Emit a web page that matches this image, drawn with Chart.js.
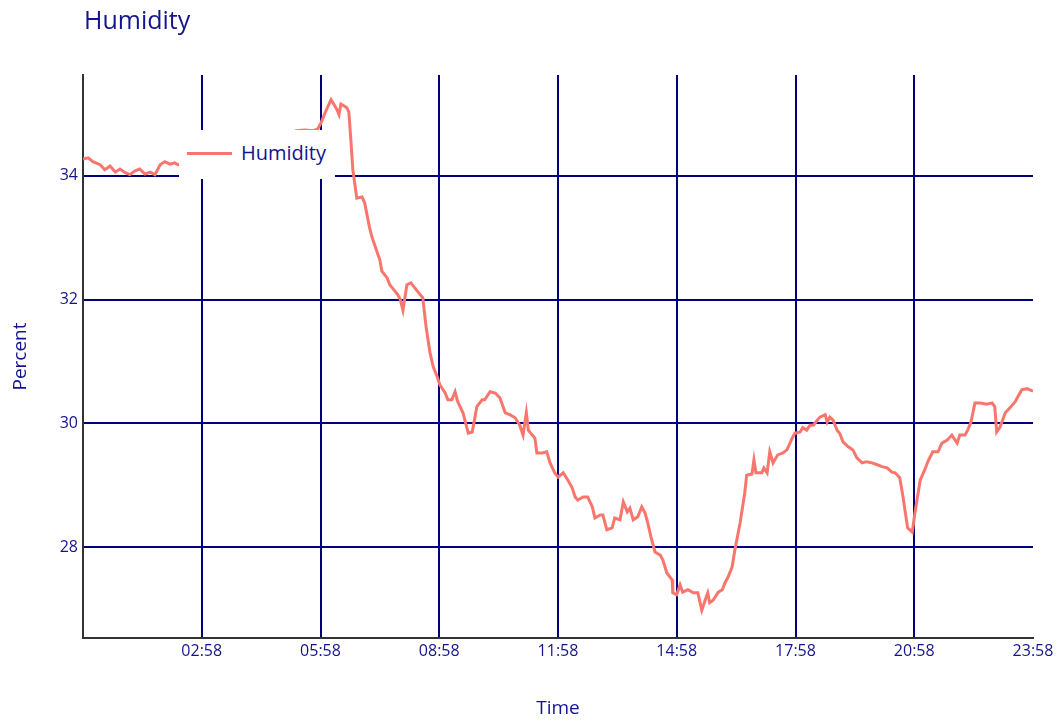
<!DOCTYPE html>
<html lang="en">
<head>
    <meta charset="UTF-8">
    <title>Humidity</title>
    <script src="https://cdn.jsdelivr.net/npm/chart.js"></script>
    <style>
        body {
            margin: 0;
            background: white;
            font-family: 'Open Sans', sans-serif;
        }
        #wrap {
            position: relative;
            width: 1061px;
            height: 725px;
        }
        #title {
            position: absolute;
            left: 84px;
            top: 4px;
            font-size: 25px;
            line-height: 30px;
            color: #14148c;
        }
        #legend {
            position: absolute;
            left: 179px;
            top: 130px;
            width: 156px;
            height: 49px;
            background: white;
            z-index: 2;
        }
        #legend .swatch {
            position: absolute;
            left: 8px;
            top: 22px;
            width: 45px;
            height: 3px;
            background: #f8766d;
        }
        #legend .label {
            position: absolute;
            left: 62px;
            top: 10px;
            font-size: 20px;
            line-height: 26px;
            color: #14148c;
        }
    </style>
</head>
<body>
    <div id="wrap">
        <canvas id="chart"></canvas>
        <div id="title">Humidity</div>
        <div id="legend"><span class="swatch"></span><span class="label">Humidity</span></div>
    </div>

    <script>
        // minutes elapsed since 23:58 (axis start)
        const minutes = [
            0, 8, 15, 26, 33, 41, 49, 56, 64, 71, 79, 86, 94, 102, 109, 117, 124, 132, 139, 144,
            177, 223, 268, 306, 323, 336, 349, 356,
            361, 367, 376, 380, 385, 388, 391, 396, 400, 403,
            406, 409, 415, 423, 427, 434, 438, 446, 450, 453,
            461, 465, 471, 477, 481, 485, 491, 497, 503, 511,
            515, 520, 526, 531, 537, 541, 549, 553, 559, 564,
            568, 576, 584, 590, 597, 605, 609, 617, 625, 632,
            640, 647, 655, 662, 667, 672, 675, 681, 685, 688,
            696, 703, 708, 715, 720, 728, 735, 741, 746, 750,
            758, 765, 772, 776, 784, 788, 794, 802, 806, 814,
            819, 825, 829, 834, 841, 847, 852, 856, 861, 867,
            875, 879, 885, 893, 894, 900, 905, 909, 917, 925,
            932, 938, 943, 947, 950, 955, 963, 969, 973, 978,
            984, 988, 996, 1003, 1006, 1014, 1017, 1020, 1029, 1032,
            1037, 1041, 1046, 1053, 1061, 1067, 1075, 1079, 1087, 1091,
            1097, 1102, 1107, 1113, 1117, 1125, 1128, 1132, 1137, 1143,
            1147, 1152, 1160, 1167, 1173, 1181, 1188, 1196, 1204, 1211,
            1219, 1226, 1231, 1238, 1243, 1247, 1250, 1257, 1261, 1269,
            1276, 1281, 1288, 1296, 1302, 1310, 1317, 1325, 1329, 1337,
            1341, 1346, 1352, 1360, 1370, 1378, 1382, 1385, 1390, 1398,
            1405, 1413, 1417, 1423, 1431, 1440
        ];

        const humidity = [
            34.27, 34.29, 34.23, 34.18, 34.10, 34.16, 34.06, 34.11, 34.05, 34.02, 34.08, 34.11, 34.03, 34.06, 34.02, 34.18, 34.23, 34.19, 34.21, 34.18,
            34.22, 34.28, 34.40, 34.60, 34.73, 34.74, 34.73, 34.76,
            34.86, 35.02, 35.23, 35.16, 35.07, 34.99, 35.16, 35.13, 35.10, 35.03,
            34.58, 34.10, 33.64, 33.66, 33.56, 33.18, 33.01, 32.76, 32.64, 32.46,
            32.35, 32.24, 32.16, 32.08, 32.00, 31.83, 32.24, 32.27, 32.19, 32.08,
            32.03, 31.56, 31.14, 30.91, 30.75, 30.62, 30.49, 30.38, 30.38, 30.51,
            30.35, 30.17, 29.84, 29.86, 30.27, 30.38, 30.38, 30.51, 30.49, 30.41,
            30.17, 30.14, 30.09, 29.97, 29.81, 30.17, 29.89, 29.81, 29.76, 29.52,
            29.52, 29.54, 29.36, 29.20, 29.13, 29.20, 29.08, 28.97, 28.81, 28.76,
            28.81, 28.81, 28.65, 28.47, 28.52, 28.52, 28.28, 28.31, 28.47, 28.44,
            28.73, 28.57, 28.63, 28.44, 28.49, 28.65, 28.55, 28.39, 28.16, 27.92,
            27.87, 27.79, 27.58, 27.47, 27.26, 27.23, 27.39, 27.27, 27.31, 27.26,
            27.26, 26.98, 27.14, 27.26, 27.10, 27.14, 27.27, 27.31, 27.42, 27.52,
            27.68, 27.95, 28.39, 28.87, 29.16, 29.18, 29.41, 29.20, 29.20, 29.28,
            29.20, 29.54, 29.36, 29.49, 29.52, 29.57, 29.76, 29.84, 29.86, 29.93,
            29.89, 29.97, 29.97, 30.05, 30.10, 30.14, 30.02, 30.10, 30.05, 29.89,
            29.84, 29.70, 29.62, 29.57, 29.44, 29.36, 29.38, 29.36, 29.33, 29.30,
            29.28, 29.21, 29.20, 29.12, 28.81, 28.52, 28.31, 28.24, 28.55, 29.08,
            29.25, 29.39, 29.54, 29.54, 29.68, 29.73, 29.81, 29.68, 29.81, 29.81,
            29.89, 30.02, 30.33, 30.33, 30.31, 30.33, 30.27, 29.86, 29.94, 30.17,
            30.25, 30.35, 30.43, 30.54, 30.56, 30.52
        ];

        const xTicks = [0, 180, 360, 540, 720, 900, 1080, 1260, 1440];
        const yTicks = [28, 30, 32, 34];
        const startClock = 23 * 60 + 58;

        const navy = '#00007a';
        const textColor = '#14148c';

        function clockLabel(m) {
            const t = (startClock + m) % 1440;
            const h = Math.floor(t / 60), mm = t % 60;
            return String(h).padStart(2, '0') + ':' + String(mm).padStart(2, '0');
        }

        const ctx = document.getElementById('chart').getContext('2d');
        new Chart(ctx, {
            type: 'line',
            data: {
                datasets: [{
                    label: 'Humidity',
                    data: minutes.map((m, i) => ({ x: m, y: humidity[i] })),
                    borderColor: '#f8766d',
                    borderWidth: 3,
                    pointRadius: 0,
                    tension: 0
                }]
            },
            options: {
                responsive: true,
                maintainAspectRatio: false,
                animation: false,
                layout: { padding: { top: 75, right: 28, left: 0, bottom: 0 } },
                plugins: {
                    legend: { display: false },
                    tooltip: { enabled: false }
                },
                scales: {
                    x: {
                        type: 'linear',
                        min: 0,
                        max: 1440,
                        afterBuildTicks: axis => { axis.ticks = xTicks.map(v => ({ value: v })); },
                        afterFit: axis => { axis.height = 87; },
                        ticks: {
                            color: textColor,
                            font: { family: 'Open Sans', size: 16 },
                            padding: 4,
                            maxRotation: 0,
                            callback: v => v === 0 ? '' : clockLabel(v)
                        },
                        grid: {
                            color: c => (c.tick && c.tick.value === 1440) ? 'rgba(0,0,0,0)' : navy,
                            lineWidth: 2,
                            drawTicks: false
                        },
                        border: { color: '#333', width: 2 },
                        title: {
                            display: true,
                            text: 'Time',
                            color: textColor,
                            font: { family: 'Open Sans', size: 19 },
                            padding: { bottom: 5 }
                        }
                    },
                    y: {
                        min: 26.53,
                        max: 35.63,
                        afterBuildTicks: axis => { axis.ticks = yTicks.map(v => ({ value: v })); },
                        afterFit: axis => { axis.width = 83; },
                        ticks: {
                            color: textColor,
                            font: { family: 'Open Sans', size: 16 },
                            padding: 5
                        },
                        grid: {
                            color: navy,
                            lineWidth: 2,
                            drawTicks: false
                        },
                        border: { color: '#333', width: 2 },
                        title: {
                            display: true,
                            text: 'Percent',
                            color: textColor,
                            font: { family: 'Open Sans', size: 19 },
                            padding: { top: 9 }
                        }
                    }
                }
            }
        });
    </script>
</body>
</html>
